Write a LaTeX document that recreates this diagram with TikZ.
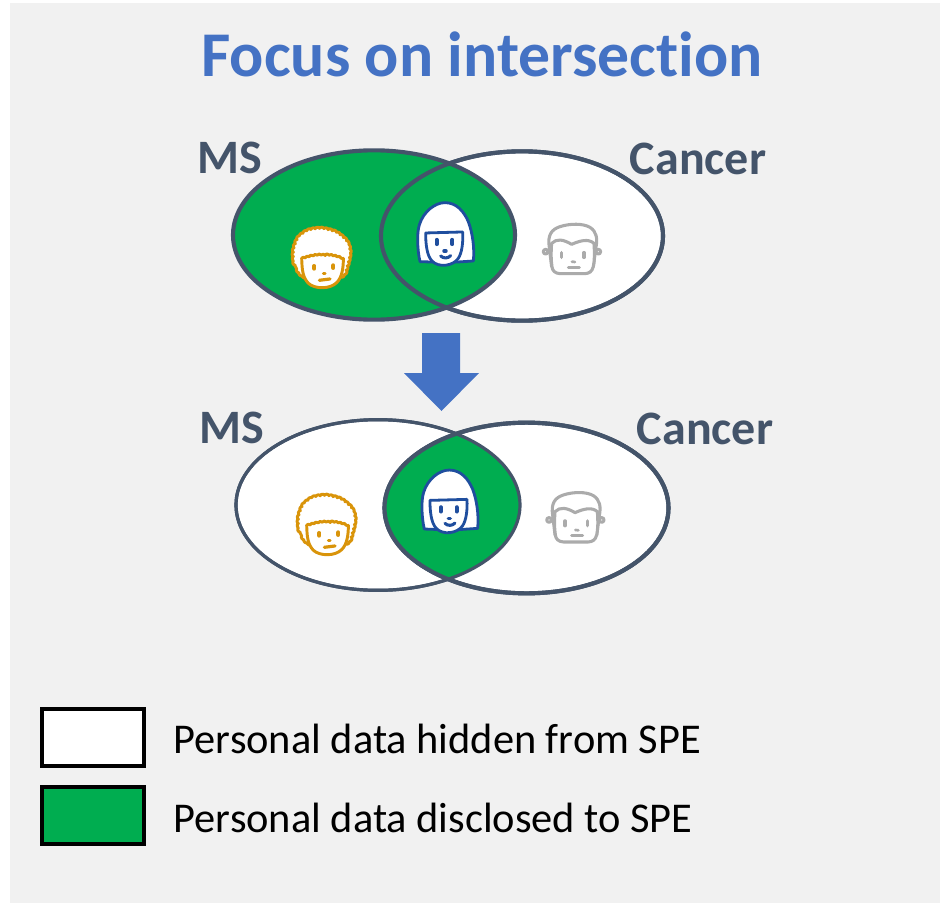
\documentclass[tikz,border=0pt]{standalone}
\usepackage{fontspec}
\setmainfont[Ligatures=NoCommon]{Carlito}
\usetikzlibrary{shapes.geometric,decorations.pathmorphing}
\definecolor{slateink}{HTML}{44546A}
\definecolor{titleblue}{HTML}{4472C4}
\definecolor{vgreen}{HTML}{00AD50}
\definecolor{panelgray}{HTML}{F1F1F1}
\definecolor{curlyc}{HTML}{D9940A}
\definecolor{bobc}{HTML}{1F4E9E}
\definecolor{manc}{HTML}{ABABAB}
\tikzset{
  vennring/.style={shape=ellipse,inner sep=0pt,outer sep=0pt,minimum width=211.5pt,minimum height=127pt,line width=3.1pt,draw=slateink},
  vennlabel/.style={font=\bfseries\fontsize{36}{40}\selectfont,text=slateink,inner sep=0pt},
  titlelabel/.style={font=\bfseries\fontsize{47.8}{54}\selectfont,text=titleblue,inner sep=0pt},
  legendbox/.style={shape=rectangle,inner sep=0pt,outer sep=0pt,minimum width=77pt,minimum height=43pt,line width=2.9pt,draw=black},
  legendlabel/.style={font=\fontsize{31.8}{36}\selectfont,text=black,inner sep=0pt,anchor=west},
  feature/.style={line cap=round,line join=round},
  pics/curly/.style={code={
    \begin{scope}[scale=1/3,shift={(-125,-205)},feature,line width=2.2pt,draw=curlyc,fill=white]
      \path[draw,fill,decorate,decoration={bumps,segment length=6.5pt,amplitude=1.1pt}]
        plot[smooth cycle] coordinates {(70,258)(45,225)(41,185)(53,147)(80,124)(120,116)(165,126)(198,152)(209,185)(202,225)(188,255)(125,270)};
      \path[draw,fill] (65,205) .. controls (66,240) and (68,262) .. (85,280) .. controls (105,298) and (150,298) .. (170,278) .. controls (186,262) and (190,235) .. (190,205);
      \path[draw,decorate,decoration={bumps,segment length=6pt,amplitude=.9pt}] (65,207) .. controls (90,200) and (105,195) .. (125,196) .. controls (150,194) and (170,200) .. (190,207);
      \path[draw,line width=3pt] (103,228)--(103,236) (160,226)--(160,234);
      \path[draw,line width=2.2pt] (130,250)--(135,250);
      \path[draw,line width=2.4pt] (118,271)--(150,267);
    \end{scope}}},
  pics/bob/.style={code={
    \begin{scope}[scale=1/3,shift={(-495,-130)},feature,line width=2.1pt,draw=bobc,fill=white]
      \path[draw,fill] (420,215) .. controls (412,180) and (410,130) .. (418,105) .. controls (430,65) and (465,38) .. (495,38) .. controls (530,38) and (552,65) .. (565,95) .. controls (578,130) and (584,175) .. (580,213) -- (535,216) -- (450,216) -- cycle;
      \path[draw,fill] (437,129) -- (548,126) .. controls (550,160) and (545,190) .. (535,205) .. controls (520,228) and (475,235) .. (455,212) .. controls (440,195) and (437,160) .. (437,129) -- cycle;
      \path[draw,line width=3.2pt] (470,150)--(470,162) (517,150)--(517,162);
      \path[draw,line width=2.6pt] (492,183)--(498,183);
      \path[draw,line width=2.3pt] (482,198) .. controls (490,206) and (504,206) .. (512,197);
    \end{scope}}},
  pics/manface/.style={code={
    \begin{scope}[scale=1/3,shift={(-127,-120)},feature,line width=2.3pt,draw=manc,fill=white]
      \path[draw,fill] (47,125) circle[radius=7] (205,125) circle[radius=7];
      \path[draw,fill] (58,112) .. controls (52,75) and (65,58) .. (90,50) .. controls (120,40) and (160,40) .. (180,52) .. controls (200,65) and (203,85) .. (198,112) -- (190,170) -- (65,170) -- cycle;
      \path[draw,fill] (65,100) .. controls (80,85) and (100,88) .. (125,103) .. controls (150,92) and (175,85) .. (192,100) .. controls (194,130) and (194,150) .. (190,170) .. controls (186,185) and (178,190) .. (165,191) -- (90,191) .. controls (75,190) and (67,182) .. (66,170) .. controls (63,150) and (63,125) .. (65,100) -- cycle;
      \path[draw,line width=2.6pt] (95,128)--(95,142) (162,128)--(162,142);
      \path[draw,line width=2pt] (126,155)--(135,156);
      \path[draw,line width=2.3pt] (115,172)--(148,172);
    \end{scope}}}
}
\begin{document}
\begin{tikzpicture}[x=.75pt,y=-.75pt]
\useasboundingbox (0,0) rectangle (940,903);
\fill[panelgray] (10,3) rectangle (940,903);
\node[titlelabel] (title) at (482,54) {Focus on intersection};
% upper diagram
\node[vennring,fill=white] (cancerA) at (522,236) {};
\node[vennring,fill=vgreen] (msA) at (374,235) {};
\node[vennring] (cancerAring) at (522,236) {};
\node[vennlabel] (msAlabel) at (230,158) {MS};
\node[vennlabel] (cancerAlabel) at (698,159) {Cancer};
\pic at (321.7,258.3) {curly};
\pic at (445,233.3) {bob};
\pic at (572.3,250) {manface};
% arrow
\fill[titleblue] (422,333)--(460,333)--(460,373)--(479,373)--(441.5,411)--(404,373)--(422,373)--cycle;
% lower diagram
\node[vennring,fill=white,line width=2.4pt,minimum width=213pt,minimum height=128pt] (msB) at (378,505) {};
\node[vennring,fill=white,minimum width=213pt,minimum height=128pt] (cancerB) at (526.5,508) {};
\begin{scope}
  \clip (msB.center) ellipse[x radius=106.5pt,y radius=64pt];
  \fill[vgreen] (cancerB.center) ellipse[x radius=106.5pt,y radius=64pt];
\end{scope}
\node[vennring,line width=2.4pt,minimum width=213pt,minimum height=128pt] (msBring) at (378,505) {};
\node[vennring,minimum width=213pt,minimum height=128pt] (cancerBring) at (526.5,508) {};
\node[vennlabel] (msBlabel) at (232,428) {MS};
\node[vennlabel] (cancerBlabel) at (705,429) {Cancer};
\pic at (326.7,525.3) {curly};
\pic at (449.3,500.7) {bob};
\pic at (575.7,518.3) {manface};
% legend
\node[legendbox,fill=white] (hiddenbox) at (93,737.3) {};
\node[legendbox,fill=vgreen] (disclosedbox) at (93,815.3) {};
\node[legendlabel] (hiddentext) at (173.5,739) {Personal data hidden from SPE};
\node[legendlabel] (disclosedtext) at (173.5,818) {Personal data disclosed to SPE};
\end{tikzpicture}
\end{document}
